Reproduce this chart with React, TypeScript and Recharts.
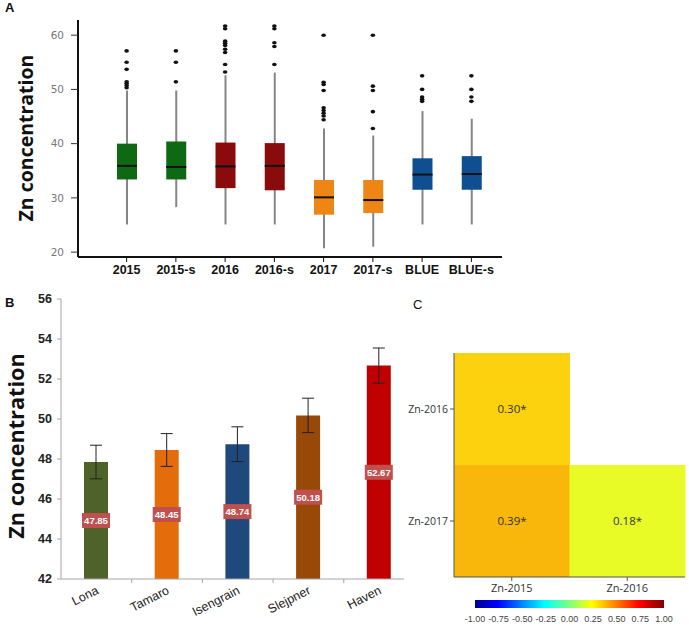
import React from "react";
import {
  ComposedChart,
  BarChart,
  Bar,
  Scatter,
  XAxis,
  YAxis,
  ErrorBar,
  LabelList,
  Cell,
} from "recharts";

// ---- Panel A: Zn concentration per year / BLUE (box plots)
const groups = ["2015", "2015-s", "2016", "2016-s", "2017", "2017-s", "BLUE", "BLUE-s"];
const boxMin = [25.1, 28.3, 25.1, 25.1, 20.7, 21.0, 25.1, 25.1];
const boxQ1 = [33.4, 33.4, 31.8, 31.4, 26.9, 27.2, 31.5, 31.5];
const boxMedian = [35.9, 35.7, 35.8, 35.9, 30.1, 29.6, 34.3, 34.4];
const boxQ3 = [40.0, 40.4, 40.2, 40.1, 33.3, 33.3, 37.3, 37.7];
const boxMax = [49.8, 49.8, 52.6, 53.1, 42.8, 41.5, 46.0, 44.6];
const outliers = [
  [57.1, 55.0, 53.7, 51.4, 51.1, 50.7, 50.3],
  [57.1, 55.0, 51.4],
  [61.7, 61.2, 58.9, 58.5, 58.1, 57.4, 56.8, 54.6, 53.2],
  [61.7, 61.2, 58.6, 57.9, 54.6],
  [60.0, 51.3, 50.9, 49.8, 46.6, 46.1, 45.6, 45.1, 44.4],
  [60.0, 50.6, 49.8, 45.9, 42.8],
  [52.5, 50.0, 48.6, 48.2, 47.8],
  [52.5, 50.0, 48.6, 47.8],
];
const yTicksA = [20, 30, 40, 50, 60];

// ---- Panel B: cultivar means
const cultivars = ["Lona", "Tamaro", "Isengrain", "Slejpner", "Haven"];
const znMeans = [47.85, 48.45, 48.74, 50.18, 52.67];
const znErrors = [0.84, 0.82, 0.87, 0.86, 0.88];
const yTicksB = [42, 44, 46, 48, 50, 52, 54, 56];

// ---- Panel C: correlation heatmap
const heatCols = ["Zn-2015", "Zn-2016"];
const heatRows = ["Zn-2017", "Zn-2016"]; // bottom to top
const corrRow2017 = [0.39, 0.18];
const corrRow2016: (number | null)[] = [0.3, null];
const scaleTicks = [-1, -0.75, -0.5, -0.25, 0, 0.25, 0.5, 0.75, 1];

const boxColors = ["#0d6a12", "#0d6a12", "#8a0b0b", "#8a0b0b", "#ee8616", "#ee8616", "#0f4e90", "#0f4e90"];
const barColors = ["#4f6228", "#e46c0a", "#1f497d", "#984807", "#c00000"];
const heatColors2017 = ["#f9b60b", "#e8fb26"];
const heatColors2016 = ["#fcd10d", "none"];

const boxData = groups.map((g, i) => ({
  cat: g,
  min: boxMin[i],
  q1: boxQ1[i],
  median: boxMedian[i],
  q3: boxQ3[i],
  max: boxMax[i],
}));
const outlierData = groups.flatMap((g, i) => outliers[i].map((v) => ({ cat: g, v })));

const cultivarData = cultivars.map((c, i) => ({ name: c, mean: znMeans[i], err: znErrors[i] }));

const heatData = heatCols.map((c, i) => ({
  col: c,
  r2017: 1,
  r2016: corrRow2016[i] === null ? 0 : 1,
  l2017: corrRow2017[i].toFixed(2) + "*",
  l2016: corrRow2016[i] === null ? "" : (corrRow2016[i] as number).toFixed(2) + "*",
}));

const scaleData = [{ name: "r", range: [-1, 1] }];

const BoxShape = (props: any) => {
  const { x, y, width, height, payload, index } = props;
  const top = Math.min(y, y + height);
  const bottom = Math.max(y, y + height);
  const toY = (v: number) => top + ((payload.max - v) / (payload.max - payload.min)) * (bottom - top);
  const cx = x + width / 2;
  const yq3 = toY(payload.q3);
  const yq1 = toY(payload.q1);
  const ym = toY(payload.median);
  return (
    <g>
      <line x1={cx} x2={cx} y1={top} y2={bottom} stroke="#858585" strokeWidth={2} />
      <rect x={x} y={yq3} width={width} height={yq1 - yq3} fill={boxColors[index]} />
      <line x1={x} x2={x + width} y1={ym} y2={ym} stroke="#111" strokeWidth={2} />
    </g>
  );
};

const ValueTag = (props: any) => {
  const vb = props.viewBox ?? props;
  const { x, y, width, height } = vb;
  const cx = x + width / 2;
  const cy = y + height / 2;
  return (
    <g>
      <rect x={cx - 14} y={cy - 7.5} width={28} height={15} fill="#c0504d" />
      <text x={cx} y={cy + 3.5} textAnchor="middle" fill="#fff" fontSize={9.5} fontWeight={700} fontFamily="Liberation Sans, Arial">
        {props.value}
      </text>
    </g>
  );
};

const CultivarTick = (props: any) => {
  const { x, y, payload, width, visibleTicksCount } = props;
  const half = width && visibleTicksCount ? width / visibleTicksCount / 2 : 0;
  return (
    <g>
      {half > 0 && <line x1={x + half} x2={x + half} y1={y} y2={y + 4} stroke="#a6a6a6" />}
      <text
        x={x + 3}
        y={y + 14}
        transform={`rotate(-27, ${x + 3}, ${y + 14})`}
        textAnchor="end"
        fill="#222"
        fontSize={12.5}
        fontFamily="Liberation Sans, Arial"
      >
        {payload.value}
      </text>
    </g>
  );
};

const HeatLabel = (props: any) => {
  const vb = props.viewBox ?? props;
  const { x, y, width, height } = vb;
  if (!props.value) return null;
  return (
    <text x={x + width / 2} y={y + height / 2 + 4} textAnchor="middle" fill="#333" fontSize={11.5} fontFamily="Open Sans">
      {props.value}
    </text>
  );
};

const rotLabel = (left: number, top: number, size: number): React.CSSProperties => ({
  position: "absolute",
  left,
  top,
  transform: "translate(-50%, -50%) rotate(-90deg)",
  whiteSpace: "nowrap",
  fontFamily: "Open Sans",
  fontWeight: 700,
  fontSize: size,
  color: "#111",
});

const letter = (left: number, top: number, bold: boolean): React.CSSProperties => ({
  position: "absolute",
  left,
  top,
  fontFamily: "Liberation Sans, Arial",
  fontWeight: bold ? 700 : 400,
  fontSize: 13,
  color: "#111",
});

export default function App() {
  return (
    <div style={{ position: "absolute", left: 0, top: 0, width: 689, height: 627, background: "#fff", overflow: "hidden" }}>
      {/* Panel A */}
      <div style={{ position: "absolute", left: 0, top: 0 }}>
        <ComposedChart width={520} height={290} data={boxData} margin={{ top: 20, right: 18, bottom: 8, left: 38 }}>
          <XAxis
            dataKey="cat"
            allowDuplicatedCategory={false}
            padding={{ left: 24, right: 6 }}
            height={25}
            axisLine={{ stroke: "#111", strokeWidth: 2 }}
            tickLine={{ stroke: "#111" }}
            tickSize={5}
            tickMargin={3}
            tick={{ fill: "#111", fontSize: 12.5, fontWeight: 700, fontFamily: "Liberation Sans, Arial" }}
          />
          <YAxis
            width={40}
            domain={[19.1, 62.8]}
            ticks={yTicksA}
            allowDataOverflow
            axisLine={{ stroke: "#111", strokeWidth: 2 }}
            tickLine={{ stroke: "#333" }}
            tickSize={7}
            tickMargin={7}
            tick={{ fill: "#777", fontSize: 10.5, fontFamily: "DejaVu Sans" }}
          />
          <Bar dataKey={(d: any) => [d.min, d.max]} barSize={20} shape={BoxShape} isAnimationActive={false} />
          <Scatter
            data={outlierData}
            dataKey="v"
            isAnimationActive={false}
            shape={(p: any) => <ellipse cx={p.cx} cy={p.cy} rx={2.3} ry={1.8} fill="#111" />}
          />
        </ComposedChart>
      </div>
      <div style={letter(5, 0, true)}>A</div>
      <div style={rotLabel(25, 138, 19.5)}>Zn concentration</div>

      {/* Panel B */}
      <div style={{ position: "absolute", left: 0, top: 280, width: 404, height: 347, overflow: "hidden" }}>
        <BarChart width={430} height={347} data={cultivarData} margin={{ top: 19, right: 15.5, bottom: 0, left: 21 }}>
          <XAxis
            dataKey="name"
            height={48}
            axisLine={{ stroke: "#a6a6a6" }}
            tickLine={false}
            tickSize={0}
            tickMargin={0}
            tick={<CultivarTick />}
          />
          <YAxis
            width={40}
            domain={[42, 56]}
            ticks={yTicksB}
            allowDataOverflow
            axisLine={{ stroke: "#a6a6a6" }}
            tickLine={{ stroke: "#a6a6a6" }}
            tickSize={4}
            tickMargin={5}
            tick={{ fill: "#222", fontSize: 12.5, fontWeight: 700, fontFamily: "Liberation Sans, Arial" }}
          />
          <Bar dataKey="mean" barSize={24} isAnimationActive={false}>
            {cultivarData.map((d, i) => (
              <Cell key={d.name} fill={barColors[i]} />
            ))}
            <ErrorBar dataKey="err" width={6} stroke="#222" strokeWidth={1} />
            <LabelList dataKey="mean" content={ValueTag} />
          </Bar>
        </BarChart>
      </div>
      <div style={letter(5, 295, true)}>B</div>
      <div style={rotLabel(15, 446, 21.7)}>Zn concentration</div>

      {/* Panel C */}
      <div style={{ position: "absolute", left: 380, top: 300 }}>
        <BarChart
          width={309}
          height={300}
          data={heatData}
          barCategoryGap={0}
          margin={{ top: 53, right: 4, bottom: 3, left: 14 }}
        >
          <XAxis
            dataKey="col"
            height={20}
            axisLine={{ stroke: "#555" }}
            tickLine={{ stroke: "#555" }}
            tickSize={4}
            tickMargin={3}
            tick={{ fill: "#333", fontSize: 11, fontFamily: "Open Sans" }}
          />
          <YAxis
            width={60}
            type="number"
            domain={[0, 2]}
            ticks={[0.5, 1.5]}
            tickFormatter={(v: number) => heatRows[Math.floor(v)]}
            axisLine={{ stroke: "#555" }}
            tickLine={{ stroke: "#555" }}
            tickSize={4}
            tickMargin={2}
            tick={{ fill: "#333", fontSize: 10.5, fontFamily: "Open Sans" }}
          />
          <Bar dataKey="r2017" stackId="h" isAnimationActive={false}>
            {heatData.map((d, i) => (
              <Cell key={d.col} fill={heatColors2017[i]} />
            ))}
            <LabelList dataKey="l2017" content={HeatLabel} />
          </Bar>
          <Bar dataKey="r2016" stackId="h" isAnimationActive={false}>
            {heatData.map((d, i) => (
              <Cell key={d.col} fill={heatColors2016[i]} />
            ))}
            <LabelList dataKey="l2016" content={HeatLabel} />
          </Bar>
        </BarChart>
      </div>
      <div style={letter(413, 297, false)}>C</div>

      {/* colour scale */}
      <div style={{ position: "absolute", left: 455, top: 596 }}>
        <BarChart width={230} height={30} data={scaleData} layout="vertical" margin={{ top: 4, right: 21, bottom: 0, left: 20 }}>
          <defs>
            <linearGradient id="jet" x1="0" y1="0" x2="1" y2="0">
              <stop offset="0%" stopColor="#00008f" />
              <stop offset="12%" stopColor="#0000ff" />
              <stop offset="37%" stopColor="#00ffff" />
              <stop offset="50%" stopColor="#80ff80" />
              <stop offset="62%" stopColor="#ffff00" />
              <stop offset="87%" stopColor="#ff0000" />
              <stop offset="100%" stopColor="#800000" />
            </linearGradient>
          </defs>
          <XAxis
            type="number"
            domain={[-1, 1]}
            ticks={scaleTicks}
            height={17}
            axisLine={false}
            tickLine={false}
            tickMargin={1}
            interval={0}
            tickFormatter={(v: number) => v.toFixed(2)}
            tick={{ fill: "#444", fontSize: 9, fontFamily: "Liberation Sans, Arial" }}
          />
          <YAxis type="category" dataKey="name" hide />
          <Bar dataKey="range" fill="url(#jet)" barSize={9} isAnimationActive={false} />
        </BarChart>
      </div>
    </div>
  );
}
